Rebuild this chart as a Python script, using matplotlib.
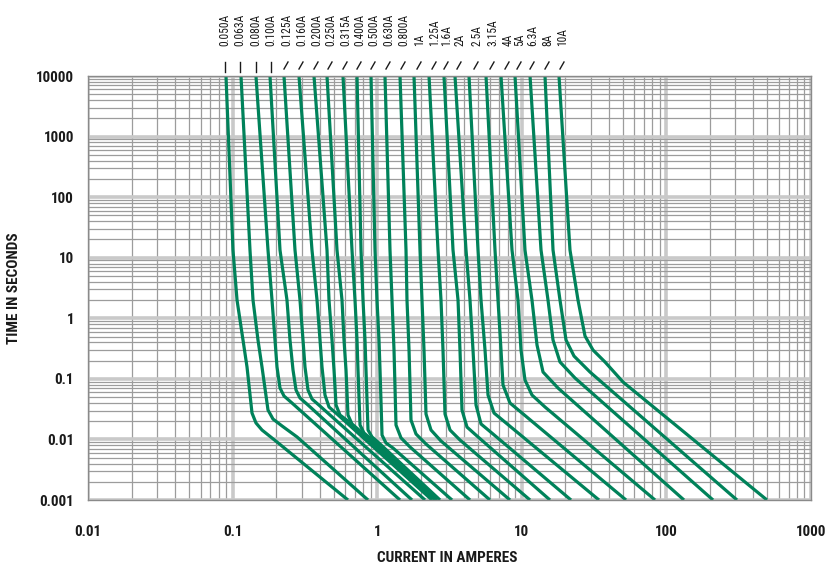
import matplotlib
matplotlib.use("Agg")
import matplotlib.pyplot as plt
from matplotlib import font_manager
from matplotlib.lines import Line2D

# ---------------- data ----------------
ratings = ['0.050A', '0.063A', '0.080A', '0.100A', '0.125A', '0.160A', '0.200A',
           '0.250A', '0.315A', '0.400A', '0.500A', '0.630A', '0.800A', '1A',
           '1.25A', '1.6A', '2A', '2.5A', '3.15A', '4A', '5A', '6.3A', '8A', '10A']

I_0050 = [0.0900, 0.1006, 0.1073, 0.1180, 0.1258, 0.1362, 0.1451, 0.1597, 0.2028, 0.628]
T_0050 = [10000, 13.4, 2.0, 0.438, 0.157, 0.0273, 0.0187, 0.0143, 0.00907, 0.001]
I_0063 = [0.1143, 0.1319, 0.1384, 0.1498, 0.1597, 0.1757, 0.1903, 0.2196, 0.2789, 0.864]
T_0063 = [10000, 13.4, 2.0, 0.438, 0.157, 0.0306, 0.0217, 0.0167, 0.0110, 0.001]
I_0080 = [0.1451, 0.1757, 0.1873, 0.1964, 0.2028, 0.2127, 0.2267, 0.2576, 1.438]
T_0080 = [10000, 13.4, 2.0, 0.438, 0.157, 0.0706, 0.0521, 0.0399, 0.001]
I_0100 = [0.1814, 0.2127, 0.2377, 0.2494, 0.2617, 0.2745, 0.2925, 0.3322, 1.740]
T_0100 = [10000, 13.4, 2.0, 0.438, 0.140, 0.0655, 0.0483, 0.0370, 0.001]
I_0125 = [0.2267, 0.2701, 0.2925, 0.3068, 0.3167, 0.3322, 0.3540, 0.4022, 2.141]
T_0125 = [10000, 13.4, 2.0, 0.438, 0.157, 0.0655, 0.0465, 0.0356, 0.001]
I_0160 = [0.2878, 0.3540, 0.3835, 0.4022, 0.4152, 0.4355, 0.4642, 0.5272, 2.393]
T_0160 = [10000, 13.4, 2.0, 0.438, 0.157, 0.0541, 0.0343, 0.0263, 0.001]
I_0200 = [0.3655, 0.4496, 0.4642, 0.4869, 0.5028, 0.5191, 0.5530, 0.628, 2.510]
T_0200 = [10000, 13.4, 2.0, 0.438, 0.140, 0.0370, 0.0253, 0.0201, 0.001]
I_0250 = [0.4496, 0.5272, 0.5709, 0.5894, 0.6085, 0.628, 0.6694, 0.7485, 2.551]
T_0250 = [10000, 13.4, 2.0, 0.438, 0.140, 0.0253, 0.0180, 0.0143, 0.001]
I_0315 = [0.5801, 0.6694, 0.7023, 0.7250, 0.7366, 0.7606, 0.8103, 0.906, 2.592]
T_0315 = [10000, 13.4, 2.0, 0.438, 0.140, 0.0173, 0.0128, 0.0102, 0.001]
I_0400 = [0.7250, 0.7727, 0.7978, 0.8234, 0.8366, 0.864, 0.9206, 1.029, 2.719]
T_0400 = [10000, 13.4, 2.0, 0.438, 0.140, 0.0143, 0.0110, 0.00873, 0.001]
I_0500 = [0.906, 0.9656, 0.9968, 1.029, 1.046, 1.080, 1.150, 1.286, 3.291]
T_0500 = [10000, 13.4, 2.0, 0.438, 0.140, 0.0118, 0.00873, 0.00722, 0.001]
I_0630 = [1.132, 1.226, 1.266, 1.307, 1.349, 1.461, 1.686, 4.384]
T_0630 = [10000, 13.4, 2.0, 0.299, 0.0173, 0.0106, 0.0075, 0.001]
I_0800 = [1.438, 1.582, 1.607, 1.660, 1.713, 1.855, 2.175, 6.027]
T_0800 = [10000, 13.4, 2.0, 0.299, 0.0209, 0.0123, 0.0084, 0.001]
I_1000 = [1.797, 1.977, 2.041, 2.107, 2.175, 2.355, 2.762, 8.287]
T_1000 = [10000, 13.4, 2.0, 0.299, 0.0263, 0.0143, 0.00942, 0.001]
I_1250 = [2.282, 2.634, 2.762, 2.851, 2.944, 3.188, 3.737, 11.40]
T_1250 = [10000, 13.4, 2.0, 0.299, 0.0263, 0.0143, 0.00978, 0.001]
I_1600 = [2.897, 3.344, 3.622, 3.737, 3.858, 4.178, 4.979, 15.67]
T_1600 = [10000, 13.4, 2.0, 0.299, 0.0306, 0.0160, 0.0110, 0.001]
I_2000 = [3.451, 4.113, 4.384, 4.598, 4.823, 5.223, 6.322, 21.89]
T_2000 = [10000, 13.4, 2.0, 0.299, 0.0370, 0.0180, 0.0123, 0.001]
I_2500 = [4.314, 4.979, 5.223, 5.567, 5.839, 6.424, 7.776, 34.19]
T_2500 = [10000, 13.4, 2.0, 0.299, 0.0541, 0.0273, 0.0187, 0.001]
I_3150 = [5.656, 6.526, 6.845, 7.181, 7.413, 8.287, 10.03, 52.56]
T_3150 = [10000, 13.4, 2.0, 0.299, 0.0792, 0.0399, 0.0273, 0.001]
I_4000 = [7.181, 8.555, 9.413, 9.874, 10.52, 11.76, 14.47, 83.41]
T_4000 = [10000, 13.4, 2.0, 0.299, 0.0957, 0.0541, 0.0343, 0.001]
I_5000 = [8.975, 10.52, 11.76, 12.74, 14.02, 17.80, 132.3]
T_5000 = [10000, 13.4, 2.0, 0.362, 0.1297, 0.0706, 0.001]
I_6300 = [11.40, 13.58, 15.18, 16.44, 18.37, 23.33, 210.1]
T_6300 = [10000, 13.4, 2.0, 0.438, 0.190, 0.1033, 0.001]
I_8000 = [14.47, 16.44, 18.37, 20.22, 22.96, 29.62, 307.7]
T_8000 = [10000, 13.4, 2.0, 0.438, 0.238, 0.1297, 0.001]
I_10000 = [18.08, 21.54, 24.47, 27.36, 31.08, 37.62, 50.11, 496.2]
T_10000 = [10000, 13.4, 2.0, 0.510, 0.299, 0.190, 0.0887, 0.001]

curves = [(I_0050, T_0050), (I_0063, T_0063), (I_0080, T_0080), (I_0100, T_0100),
          (I_0125, T_0125), (I_0160, T_0160), (I_0200, T_0200), (I_0250, T_0250),
          (I_0315, T_0315), (I_0400, T_0400), (I_0500, T_0500), (I_0630, T_0630),
          (I_0800, T_0800), (I_1000, T_1000), (I_1250, T_1250), (I_1600, T_1600),
          (I_2000, T_2000), (I_2500, T_2500), (I_3150, T_3150), (I_4000, T_4000),
          (I_5000, T_5000), (I_6300, T_6300), (I_8000, T_8000), (I_10000, T_10000)]

x_ticks = [0.01, 0.1, 1, 10, 100, 1000]
x_tick_labels = ['0.01', '0.1', '1', '10', '100', '1000']
y_ticks = [0.001, 0.01, 0.1, 1, 10, 100, 1000, 10000]
y_tick_labels = ['0.001', '0.01', '0.1', '1', '10', '100', '1000', '10000']

# ---------------- style ----------------
names = {f.name for f in font_manager.fontManager.ttflist}
FAM = 'DejaVu Sans'
for cand in ['Liberation Sans Narrow', 'Roboto Condensed', 'Liberation Sans']:
    if cand in names:
        FAM = cand
        break
NARROW = FAM in ('Liberation Sans Narrow', 'Roboto Condensed')
plt.rcParams['font.family'] = [FAM, 'DejaVu Sans']

fs_tick = 10.8 if NARROW else 10
fs_title = 11 if NARROW else 9.6
fs_top = 8.3 if NARROW else 7.1

GREEN = '#00825a'
INK = '#1a1a1a'
W, H = 830, 570
fig = plt.figure(figsize=(W / 100, H / 100), dpi=100)
L, R, TOP, BOT = 88, 811, 76, 500
ax = fig.add_axes([L / W, 1 - BOT / H, (R - L) / W, (BOT - TOP) / H])
ax.set_xscale('log')
ax.set_yscale('log')
ax.set_xlim(0.01, 1000)
ax.set_ylim(0.001, 10000)

ax.minorticks_on()
ax.grid(which='minor', color='#9c9c9c', lw=0.9)
ax.grid(which='major', color='#c9c9c9', lw=2.6)
ax.set_axisbelow(True)
for s in ax.spines.values():
    s.set_color('#8a8a8a')
    s.set_linewidth(1.0)

ax.set_xticks(x_ticks)
ax.set_xticklabels(x_tick_labels)
ax.set_yticks(y_ticks)
ax.set_yticklabels(y_tick_labels)
ax.tick_params(which='both', length=0)
ax.tick_params(axis='x', pad=18)
ax.tick_params(axis='y', pad=10)
for lab in ax.get_xticklabels() + ax.get_yticklabels():
    lab.set_fontsize(fs_tick)
    lab.set_fontweight('bold')
    lab.set_color(INK)

for I, T in curves:
    ax.plot(I, T, color=GREEN, lw=2.3, solid_joinstyle='round', solid_capstyle='butt')

fig.text(14 / W, 1 - 288 / H, 'TIME IN SECONDS', rotation=90, ha='center', va='center',
         fontsize=fs_title, fontweight='bold', color=INK)
fig.text(447 / W, 1 - 558 / H, 'CURRENT IN AMPERES', ha='center', va='center',
         fontsize=fs_title, fontweight='bold', color=INK)

# rating labels and leader marks above the plot (pixel offsets of each label
# relative to the top end of its curve, as laid out in the reference)
label_dx = [-1, -1, 0, 1, 3, 3, 3, 4, 3, 3, 3, 4, 4, 6, 6, 3, 5, 8, 7, 7, 5, 3, 3, 4]
fig.canvas.draw()
for k, (name, (I, T)) in enumerate(zip(ratings, curves)):
    xd, _ = ax.transData.transform((I[0], 1.0))
    xt = xd + label_dx[k]
    if k < 4:
        xs, ys = [xt, xt], [H - 72, H - 62]
    else:
        xs, ys = [xt - 3, xt + 1], [H - 69, H - 62]
    fig.add_artist(Line2D([x / W for x in xs], [y / H for y in ys],
                          transform=fig.transFigure, color=INK, lw=1.0))
    fig.text(xt / W, 1 - 46 / H, name, rotation=90, ha='center', va='bottom',
             fontsize=fs_top, color=INK)

fig.savefig('out.png', dpi=100)
